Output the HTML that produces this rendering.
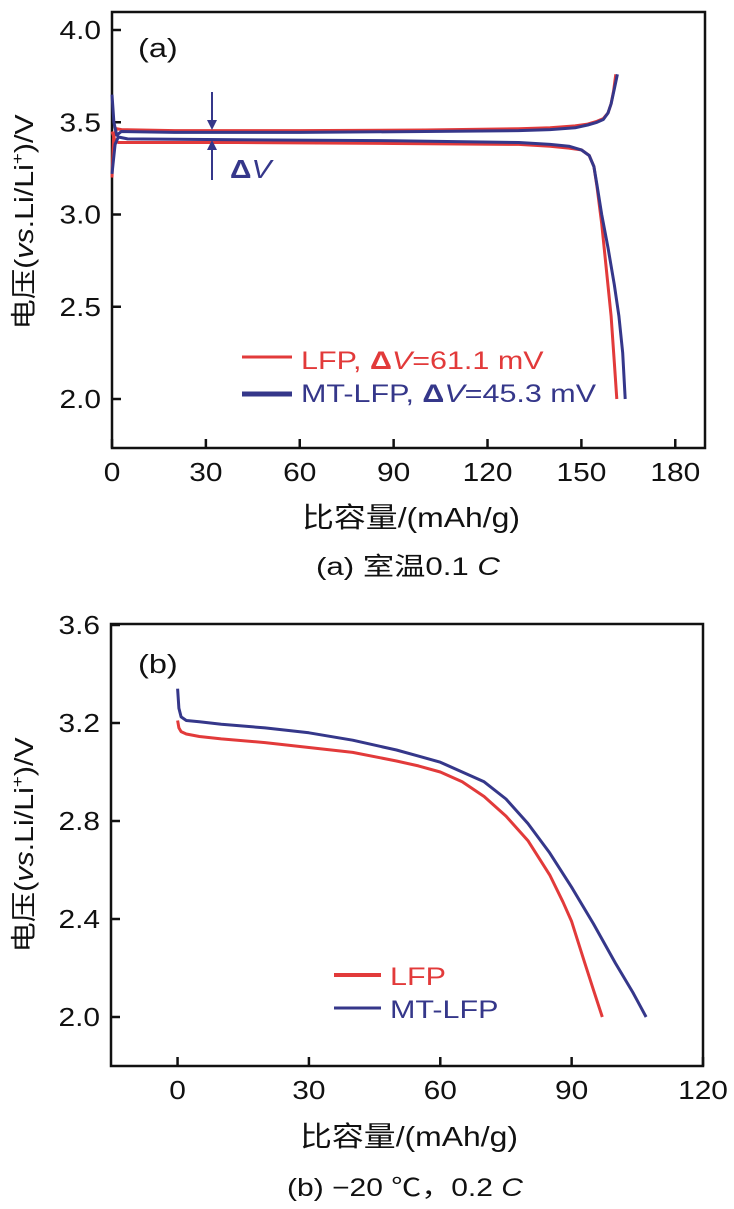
<!DOCTYPE html>
<html><head><meta charset="utf-8">
<style>
html,body{margin:0;padding:0;background:#fff;}
svg{display:block;}
text{font-family:"Liberation Sans","Noto Sans CJK SC",sans-serif;}
</style></head>
<body>
<svg id="fig" width="734" height="1209" viewBox="0 0 734 1209" xmlns="http://www.w3.org/2000/svg">
<g id="ga"></g>
<g id="gb"></g>
</svg>
<script>
// ---- Chart (a) data ----
const aXTicks = [0,30,60,90,120,150,180];
const aYTicks = [2.0,2.5,3.0,3.5,4.0];
const aYTickLabels = ["2.0","2.5","3.0","3.5","4.0"];
const aLfpChargeX = [0,0.5,1.5,3,20,60,100,130,140,148,152,155,157,158.5,159.5,160.3,161];
const aLfpChargeV = [3.2,3.42,3.465,3.46,3.455,3.455,3.458,3.465,3.47,3.48,3.49,3.505,3.52,3.55,3.6,3.67,3.76];
const aLfpDisX = [0,1,2,5,40,90,130,140,146,150,152.5,154,155,156.5,158,159.5,160.5,161.3];
const aLfpDisV = [3.45,3.4,3.39,3.39,3.39,3.385,3.38,3.37,3.36,3.35,3.32,3.26,3.15,2.95,2.7,2.45,2.2,2.0];
const aMtChargeX = [0,0.6,1.5,3,20,60,100,130,140,148,152,155,157,158.5,159.5,160.5,161.5];
const aMtChargeV = [3.65,3.5,3.43,3.45,3.445,3.445,3.45,3.455,3.46,3.47,3.485,3.5,3.515,3.55,3.6,3.68,3.76];
const aMtDisX = [0,1,2,5,40,90,130,140,146,150,152.5,154,155,156.5,158.5,160.5,162,163.2,164];
const aMtDisV = [3.22,3.38,3.42,3.41,3.405,3.4,3.39,3.38,3.37,3.35,3.32,3.26,3.16,3.0,2.82,2.62,2.45,2.25,2.0];

// ---- Chart (b) data ----
const bXTicks = [0,30,60,90,120];
const bYTicks = [2.0,2.4,2.8,3.2,3.6];
const bYTickLabels = ["2.0","2.4","2.8","3.2","3.6"];
const bLfpX = [0,0.3,0.8,2,5,10,20,30,40,50,55,60,65,70,75,80,85,88,90,93,95,97];
const bLfpV = [3.21,3.18,3.165,3.155,3.145,3.135,3.12,3.1,3.08,3.045,3.025,3.0,2.96,2.9,2.82,2.72,2.58,2.47,2.39,2.22,2.11,2.0];
const bMtX = [0,0.3,0.8,2,5,10,20,30,40,50,55,60,65,70,75,80,85,90,95,100,104,107];
const bMtV = [3.34,3.26,3.225,3.21,3.205,3.195,3.18,3.16,3.13,3.09,3.065,3.04,3.0,2.96,2.89,2.79,2.67,2.53,2.38,2.22,2.1,2.0];

const NS="http://www.w3.org/2000/svg";
function mk(parent,tag,attrs){const e=document.createElementNS(NS,tag);for(const k in attrs)e.setAttribute(k,attrs[k]);parent.appendChild(e);return e;}
const RED="#e23a3a", BLUE="#35378a";

const ax={x0:112,x1:705,d0:0,d1:189.5}, ay={y0:399,y1:30,d0:2.0,d1:4.0};
const aX=v=>ax.x0+(v-ax.d0)/(ax.d1-ax.d0)*(ax.x1-ax.x0);
const aY=v=>ay.y0+(v-ay.d0)/(ay.d1-ay.d0)*(ay.y1-ay.y0);
const bx={x0:111,x1:703,d0:-15.2,d1:120}, by={y0:1017,y1:625,d0:2.0,d1:3.6};
const bXf=v=>bx.x0+(v-bx.d0)/(bx.d1-bx.d0)*(bx.x1-bx.x0);
const bYf=v=>by.y0+(v-by.d0)/(by.d1-by.d0)*(by.y1-by.y0);

function path(xs,ys,fx,fy){return xs.map((x,i)=>(i?"L":"M")+fx(x).toFixed(1)+","+fy(ys[i]).toFixed(1)).join(" ");}

function drawChart(g,opt){
  const fr=mk(g,"rect",{x:opt.left,y:opt.top,width:opt.right-opt.left,height:opt.bottom-opt.top,fill:"none",stroke:"#111","stroke-width":2.5});
  
  
  opt.xt.forEach(t=>{
    const x=opt.fx(t);
    const l=mk(g,"line",{x1:x,x2:x,y1:opt.bottom,y2:opt.bottom-9,stroke:"#111","stroke-width":2.5});
    
    
    const tx=mk(g,"text",{transform:"translate("+x+","+(opt.bottom+33)+") scale(1.15,1)","font-size":26,"text-anchor":"middle",fill:"#111"});
    tx.textContent=String(t);
    
    
  });
  opt.yt.forEach((t,i)=>{
    const y=opt.fy(t);
    const l=mk(g,"line",{x1:opt.left,x2:opt.left+9,y1:y,y2:y,stroke:"#111","stroke-width":2.5});
    
    
    const tx=mk(g,"text",{transform:"translate("+(opt.left-11)+","+(y+9)+") scale(1.15,1)","font-size":26,"text-anchor":"end",fill:"#111"});
    tx.textContent=opt.ytl[i];
    
    
  });
}

const ga=document.getElementById("ga");
drawChart(ga,{left:112,right:705,top:12,bottom:448,fx:aX,fy:aY,xt:aXTicks,yt:aYTicks,ytl:aYTickLabels});
[[aLfpChargeX,aLfpChargeV,RED,"lfp-charge-line"],[aLfpDisX,aLfpDisV,RED,"lfp-discharge-line"],[aMtChargeX,aMtChargeV,BLUE,"mt-lfp-charge-line"],[aMtDisX,aMtDisV,BLUE,"mt-lfp-discharge-line"]].forEach(s=>{
  const p=mk(ga,"path",{d:path(s[0],s[1],aX,aY),fill:"none",stroke:s[2],"stroke-width":3,"stroke-linejoin":"round"});
  
  
});

const gb=document.getElementById("gb");
drawChart(gb,{left:111,right:703,top:624,bottom:1066,fx:bXf,fy:bYf,xt:bXTicks,yt:bYTicks,ytl:bYTickLabels});
[[bLfpX,bLfpV,RED,"lfp-line"],[bMtX,bMtV,BLUE,"mt-lfp-line"]].forEach(s=>{
  const p=mk(gb,"path",{d:path(s[0],s[1],bXf,bYf),fill:"none",stroke:s[2],"stroke-width":3,"stroke-linejoin":"round"});
  
  
});
</script>
<svg width="734" height="1209" style="position:absolute;left:0;top:0" xmlns="http://www.w3.org/2000/svg">
  <text transform="translate(138,57) scale(1.25,1)" font-size="26" fill="#111">(a)</text>
  <g stroke="#35378a" stroke-width="2" fill="#35378a">
    <line x1="212" y1="92" x2="212" y2="124"/>
    <polygon points="207,120 217,120 212,130" stroke="none"/>
    <line x1="212" y1="180" x2="212" y2="146"/>
    <polygon points="207,150 217,150 212,140" stroke="none"/>
  </g>
  <text transform="translate(230,178) scale(1.15,1)" font-size="26" fill="#35378a" font-weight="bold">Δ<tspan font-style="italic" font-weight="normal">V</tspan></text>
  <g>
    <line x1="242" y1="357" x2="292" y2="357" stroke="#e23a3a" stroke-width="3"/>
    <text transform="translate(301,369) scale(1.22,1)" font-size="25" fill="#e23a3a">LFP, <tspan font-weight="bold">Δ</tspan><tspan font-style="italic">V</tspan>=61.1 mV</text>
    <line x1="242" y1="394" x2="292" y2="394" stroke="#35378a" stroke-width="5"/>
    <text transform="translate(301,402) scale(1.22,1)" font-size="25" fill="#35378a">MT-LFP, <tspan font-weight="bold">Δ</tspan><tspan font-style="italic">V</tspan>=45.3 mV</text>
  </g>
  <text transform="translate(33,222) rotate(-90) scale(1.17,1)" font-size="26" text-anchor="middle" fill="#111">电压(<tspan font-style="italic">vs</tspan>.Li/Li<tspan font-size="16" dy="-10">+</tspan><tspan dy="10">)/V</tspan></text>
  <text transform="translate(411,527) scale(1.14,1)" font-size="28" text-anchor="middle" fill="#111">比容量/(mAh/g)</text>
  <text transform="translate(408,575) scale(1.25,1)" font-size="25" text-anchor="middle" fill="#111">(a) 室温0.1 <tspan font-style="italic">C</tspan></text>

  <text transform="translate(138,673) scale(1.25,1)" font-size="26" fill="#111">(b)</text>
  <g>
    <line x1="334" y1="975" x2="381" y2="975" stroke="#e23a3a" stroke-width="4"/>
    <text transform="translate(390,985) scale(1.22,1)" font-size="25" fill="#e23a3a">LFP</text>
    <line x1="334" y1="1008" x2="381" y2="1008" stroke="#35378a" stroke-width="3"/>
    <text transform="translate(390,1018) scale(1.22,1)" font-size="25" fill="#35378a">MT-LFP</text>
  </g>
  <text transform="translate(33,845) rotate(-90) scale(1.17,1)" font-size="26" text-anchor="middle" fill="#111">电压(<tspan font-style="italic">vs</tspan>.Li/Li<tspan font-size="16" dy="-10">+</tspan><tspan dy="10">)/V</tspan></text>
  <text transform="translate(409,1146) scale(1.14,1)" font-size="28" text-anchor="middle" fill="#111">比容量/(mAh/g)</text>
  <text transform="translate(405,1196) scale(1.2,1)" font-size="25" text-anchor="middle" fill="#111">(b) −20 ℃，0.2 <tspan font-style="italic">C</tspan></text>
</svg>
</body></html>
